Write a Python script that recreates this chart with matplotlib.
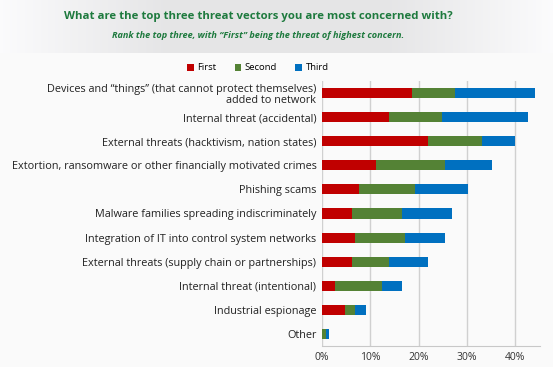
import matplotlib
matplotlib.use("Agg")
import matplotlib.pyplot as plt
import numpy as np

categories = [
    "Devices and \u201cthings\u201d (that cannot protect themselves)\nadded to network",
    "Internal threat (accidental)",
    "External threats (hacktivism, nation states)",
    "Extortion, ransomware or other financially motivated crimes",
    "Phishing scams",
    "Malware families spreading indiscriminately",
    "Integration of IT into control system networks",
    "External threats (supply chain or partnerships)",
    "Internal threat (intentional)",
    "Industrial espionage",
    "Other",
]
first = [18.6, 13.8, 22.0, 11.1, 7.6, 6.2, 6.9, 6.2, 2.7, 4.8, 0.1]
second = [9.0, 11.1, 11.1, 14.4, 11.6, 10.3, 10.3, 7.7, 9.7, 2.1, 0.7]
third = [16.5, 17.8, 6.8, 9.7, 11.1, 10.4, 8.2, 8.1, 4.1, 2.1, 0.6]
series_names = ["First", "Second", "Third"]
colors = ["#C00000", "#548235", "#0070C0"]
xticks = [0, 10, 20, 30, 40]

W, H = 553, 367
fig = plt.figure(figsize=(W / 100, H / 100), dpi=100)
fig.patch.set_facecolor("#FAFAFA")

# header band
hdr = fig.add_axes([0, 1 - 53 / H, 1, 53 / H])
grad = np.concatenate([np.linspace(0.985, 0.90, 60), np.linspace(0.90, 0.90, 80), np.linspace(0.90, 0.985, 60)])
img = np.ones((1, len(grad), 3)) * grad[None, :, None]
img[..., 2] = grad + 0.005
hdr.imshow(np.clip(img, 0, 1), aspect="auto", extent=[0, 1, 0, 1])
hdr.set_xlim(0, 1); hdr.set_ylim(0, 1)
hdr.axis("off")

fig.text(258 / W, 1 - 16 / H, "What are the top three threat vectors you are most concerned with?",
         ha="center", va="center", color="#1E7A3E", fontsize=8.2, fontweight="bold",
         family="Open Sans")
fig.text(258 / W, 1 - 36 / H, "Rank the top three, with \u201cFirst\u201d being the threat of highest concern.",
         ha="center", va="center", color="#1E7A3E", fontsize=6.6, fontweight="bold",
         style="italic", family="Open Sans")

left, right = 322 / W, 540 / W
top, bottom = 1 - 81 / H, 1 - 346 / H
ax = fig.add_axes([left, bottom, right - left, top - bottom])
ax.set_facecolor("#FAFAFA")

y = np.arange(len(categories))
f = np.array(first); s = np.array(second); t = np.array(third)
h = 0.42
ax.barh(y, f, height=h, color=colors[0], label=series_names[0], zorder=3)
ax.barh(y, s, left=f, height=h, color=colors[1], label=series_names[1], zorder=3)
ax.barh(y, t, left=f + s, height=h, color=colors[2], label=series_names[2], zorder=3)

ax.set_ylim(len(categories) - 0.5, -0.5)
ax.set_xlim(0, 45.1)
ax.set_xticks(xticks)
ax.set_xticklabels([f"{v}%" for v in xticks], fontsize=7.5, color="#333333", family="Open Sans")
ax.set_yticks(y)
ax.set_yticklabels(categories, fontsize=7.8, color="#222222", family="Open Sans", linespacing=1.0)
ax.tick_params(axis="both", length=0, pad=4)
ax.xaxis.grid(True, color="#D0D0D0", linewidth=1.0, zorder=0)
for sp in ["top", "right", "left"]:
    ax.spines[sp].set_visible(False)
ax.spines["bottom"].set_color("#C8C8C8")

handles, labels = ax.get_legend_handles_labels()
fig.legend(handles, labels, loc="center", bbox_to_anchor=(258 / W, 1 - 68 / H), ncol=3,
           frameon=False, handlelength=0.7, handleheight=0.7,
           columnspacing=1.9, handletextpad=0.4, prop={"family": "Open Sans", "size": 6.8})

fig.savefig("out.png", dpi=100, facecolor=fig.get_facecolor())
